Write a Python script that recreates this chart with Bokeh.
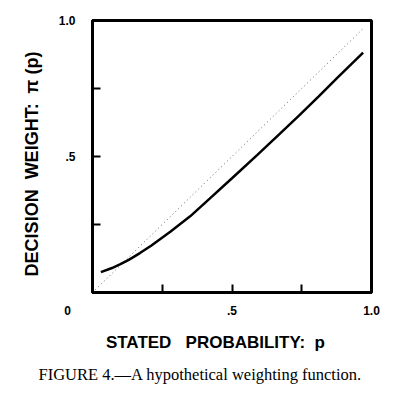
from bokeh.plotting import figure
from bokeh.models import FixedTicker, Range1d
from bokeh.embed import file_html
from bokeh.resources import INLINE

# Data
p_vals = [0.03, 0.07, 0.10, 0.13, 0.17, 0.21, 0.28, 0.35, 0.42, 0.50, 0.59, 0.67, 0.74, 0.81, 0.88, 0.97]
pi_vals = [0.075, 0.090, 0.104, 0.120, 0.145, 0.172, 0.224, 0.280, 0.345, 0.420, 0.505, 0.582, 0.650, 0.720, 0.792, 0.882]
diag_x = [0.01, 0.97]
diag_y = [0.01, 0.97]
x_ticks = [0, 0.25, 0.5, 0.75, 1.0]
y_ticks = [0.25, 0.5, 0.75, 1.0]
NB = "\u00a0"
x_tick_labels = {0: "0" + NB * 15, 0.25: "", 0.5: ".5", 0.75: "", 1.0: "1.0"}
y_tick_labels = {0.25: "", 0.5: ".5", 0.75: "", 1.0: "1.0"}
x_title = "STATED" + NB * 3 + "PROBABILITY:" + NB * 2 + "p" + NB * 7
y_title = "DECISION" + NB * 2 + "WEIGHT:" + NB * 2 + "\u03c0" + NB + "(p)" + NB * 3
caption = "FIGURE 4.\u2014A hypothetical weighting function."

SANS = "Liberation Sans"
SERIF = "Liberation Serif"

p = figure(width=388, height=392, x_range=Range1d(0, 1), y_range=Range1d(0, 1),
           output_backend="svg", toolbar_location=None,
           min_border_left=92, min_border_right=17, min_border_top=20, min_border_bottom=100,
           title=caption, title_location="below")
p.grid.visible = False
p.background_fill_color = "white"
p.border_fill_color = "white"
p.outline_line_color = "black"
p.outline_line_width = 3
p.outline_line_alpha = 1

p.title.align = "left"
p.title.offset = -54
p.title.text_font = SERIF
p.title.text_font_style = "normal"
p.title.text_font_size = "16.5px"
p.title.text_color = "black"
p.title.standoff = 16

for ax, ticks, labels in ((p.xaxis[0], x_ticks, x_tick_labels), (p.yaxis[0], y_ticks, y_tick_labels)):
    ax.ticker = FixedTicker(ticks=ticks)
    ax.major_label_overrides = labels
    ax.major_tick_in = 8
    ax.major_tick_out = 0
    ax.major_tick_line_width = 2
    ax.major_tick_line_color = "black"
    ax.minor_tick_line_color = None
    ax.axis_line_color = "black"
    ax.axis_line_width = 3
    ax.major_label_text_font = SANS
    ax.major_label_text_font_style = "bold"
    ax.major_label_text_font_size = "12px"
    ax.major_label_text_color = "black"
    ax.axis_label_text_font = SANS
    ax.axis_label_text_font_style = "bold"
    ax.axis_label_text_color = "black"

p.xaxis.major_label_standoff = 11
p.yaxis.major_label_standoff = 17
p.xaxis.axis_label = x_title
p.xaxis.axis_label_text_font_size = "17px"
p.xaxis.axis_label_standoff = 12
p.yaxis.axis_label = y_title
p.yaxis.axis_label_text_font_size = "18px"
p.yaxis.axis_label_standoff = 14

p.line(diag_x, diag_y, line_color="#666666", line_width=1, line_dash="1 3")
p.line(p_vals, pi_vals, line_color="black", line_width=2.5)

open("out.html", "w").write(file_html(p, INLINE))
